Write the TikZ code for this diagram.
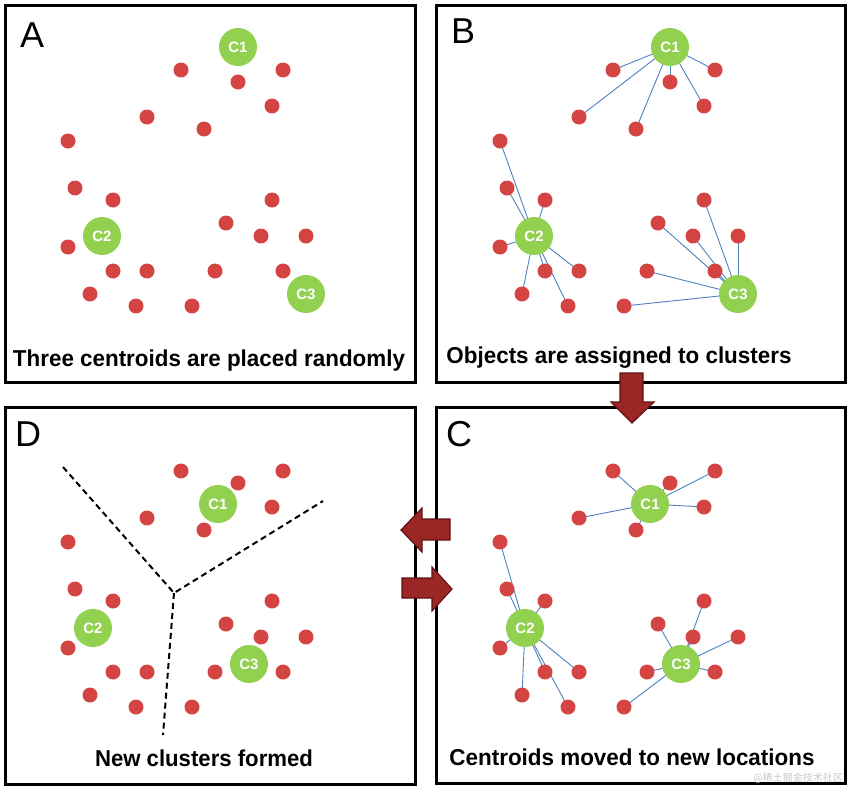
\documentclass[tikz,border=0pt]{standalone}
\usepackage{fontspec}
\setmainfont{Liberation Sans}
\newfontfamily\cjkfont{Noto Sans CJK SC}
\usetikzlibrary{backgrounds}
\definecolor{dotred}{RGB}{212,68,66}
\definecolor{cgreen}{RGB}{146,208,80}
\definecolor{linkblue}{RGB}{79,129,189}
\definecolor{arrfill}{RGB}{155,38,38}
\definecolor{arrdraw}{RGB}{100,18,18}
\tikzset{
  obj/.style={circle,fill=dotred,minimum size=15pt,inner sep=0pt},
  cent/.style={circle,fill=cgreen,minimum size=38pt,inner sep=0pt,text=white,
    font=\bfseries\fontsize{15}{15}\selectfont},
  link/.style={linkblue,line width=0.9pt},
  panelframe/.style={draw=black,line width=3pt},
  plabel/.style={anchor=base west,inner sep=0pt,font=\fontsize{36}{36}\selectfont},
  capt/.style={anchor=base,inner sep=0pt,font=\bfseries\fontsize{23}{23}\selectfont},
  vorline/.style={black,line width=2pt,dash pattern=on 6pt off 4pt},
  bigarrow/.style={fill=arrfill,draw=arrdraw,line width=1.2pt,line join=miter}
}
\begin{document}
\begin{tikzpicture}[x=1pt,y=-1pt]
\useasboundingbox (0,0) rectangle (850,788);
% panel frames
\draw[panelframe] (5,5) rectangle (415,382);
\draw[panelframe] (436,5) rectangle (845,382);
\draw[panelframe] (5,407) rectangle (415,784);
\draw[panelframe] (436,407) rectangle (845,783);
% panel letters
\node[plabel] (labA) at (20,47) {A};
\node[plabel] (labB) at (451,43) {B};
\node[plabel] (labD) at (15,446) {D};
\node[plabel] (labC) at (446,446) {C};
% panels
\foreach \p/\ox/\oy/\ln/\ax/\ay/\bx/\by/\cx/\cy in
  {A/0/0/0/238/47/102/236/306/294,
   B/432/0/1/238/47/102/236/306/294,
   C/432/401/1/218/103/93/227/249/263,
   D/0/401/0/218/103/93/227/249/263}{
  \node[cent] (\p c1) at (\ox+\ax,\oy+\ay) {C1};
  \node[cent] (\p c2) at (\ox+\bx,\oy+\by) {C2};
  \node[cent] (\p c3) at (\ox+\cx,\oy+\cy) {C3};
  \foreach \x/\y/\k [count=\i] in
    {181/70/1,283/70/1,238/82/1,272/106/1,147/117/1,204/129/1,
     68/141/2,75/188/2,113/200/2,272/200/3,226/223/3,261/236/3,306/236/3,
     68/247/2,113/271/2,147/271/2,215/271/3,283/271/3,90/294/2,136/306/2,192/306/3}{
    \node[obj] (\p o\i) at (\ox+\x,\oy+\y) {};
    \ifnum\ln=1
      \begin{pgfonlayer}{background}
        \draw[link] (\p c\k.center) -- (\p o\i.center);
      \end{pgfonlayer}
    \fi
  }
}
% cluster borders in D
\coordinate (vj) at (174,593);
\coordinate (v1) at (63,467);
\coordinate (v2) at (323,501);
\coordinate (v3) at (163,735);
\draw[vorline] (v1) -- (vj) -- (v2);
\draw[vorline] (vj) -- (v3);
% captions
\node[capt] (capA) at (209,366) {\resizebox{392pt}{\height}{Three centroids are placed randomly}};
\node[capt] (capB) at (619,363) {\resizebox{345pt}{\height}{Objects are assigned to clusters}};
\node[capt] (capD) at (204,766) {\resizebox{218pt}{\height}{New clusters formed}};
\node[capt] (capC) at (632,765) {\resizebox{365pt}{\height}{Centroids moved to new locations}};
% watermark
\node[anchor=south east,inner sep=0pt,text=black!22,font=\cjkfont\fontsize{10}{10}\selectfont] (wm) at (843,783) {@稀土掘金技术社区};
% step arrows
\draw[bigarrow] (620,373) -- (643,373) -- (643,402) -- (654,402) -- (632,423) -- (611,402) -- (620,402) -- cycle;
\draw[bigarrow] (450,519) -- (422,519) -- (422,508) -- (401,530) -- (422,552) -- (422,540) -- (450,540) -- cycle;
\draw[bigarrow] (402,578) -- (432,578) -- (432,567) -- (452,589) -- (432,611) -- (432,598) -- (402,598) -- cycle;
\end{tikzpicture}
\end{document}
